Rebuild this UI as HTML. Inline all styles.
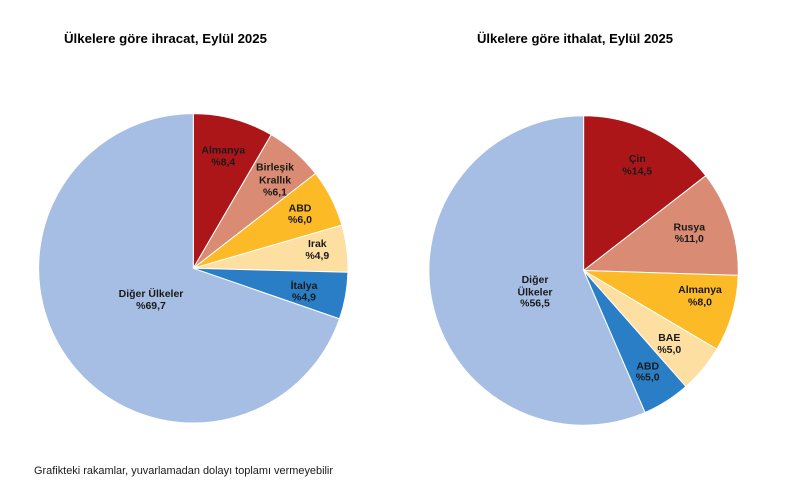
<!DOCTYPE html>
<html><head><meta charset="utf-8"><style>
html,body{margin:0;padding:0;background:#fff;}
svg{display:block;}
text{font-family:"Liberation Sans",Arial,sans-serif;}
.t{font-size:13px;font-weight:bold;fill:#000;}
.l{font-size:10.5px;font-weight:bold;fill:#1a1a1a;text-anchor:middle;}
.f{font-size:11px;fill:#1a1a1a;}
</style></head><body>
<svg width="786" height="493" viewBox="0 0 786 493" xmlns="http://www.w3.org/2000/svg">
<rect width="786" height="493" fill="#fff"/>
<text class="t" x="64" y="43" textLength="203" lengthAdjust="spacingAndGlyphs">Ülkelere göre ihracat, Eylül 2025</text>
<text class="t" x="477" y="43" textLength="196" lengthAdjust="spacingAndGlyphs">Ülkelere göre ithalat, Eylül 2025</text>

<g stroke="#fff" stroke-width="1" stroke-linejoin="round">
<path d="M193.3,268.3 L193.3,113.6 A154.7,154.7 0 0 1 271.2,134.7 Z" fill="#AD1619"/>
<path d="M193.3,268.3 L271.2,134.7 A154.7,154.7 0 0 1 315.5,173.5 Z" fill="#D98B74"/>
<path d="M193.3,268.3 L315.5,173.5 A154.7,154.7 0 0 1 341.9,225.1 Z" fill="#FBBA26"/>
<path d="M193.3,268.3 L341.9,225.1 A154.7,154.7 0 0 1 347.9,272.2 Z" fill="#FEDFA2"/>
<path d="M193.3,268.3 L347.9,272.2 A154.7,154.7 0 0 1 339.5,318.9 Z" fill="#2A7EC5"/>
<path d="M193.3,268.3 L339.5,318.9 A154.7,154.7 0 1 1 193.3,113.6 Z" fill="#A6BEE3"/>

<path d="M583.6,270.5 L583.6,115.8 A154.7,154.7 0 0 1 705.8,175.7 Z" fill="#AD1619"/>
<path d="M583.6,270.5 L705.8,175.7 A154.7,154.7 0 0 1 738.2,275.4 Z" fill="#D98B74"/>
<path d="M583.6,270.5 L738.2,275.4 A154.7,154.7 0 0 1 716.8,349.2 Z" fill="#FBBA26"/>
<path d="M583.6,270.5 L716.8,349.2 A154.7,154.7 0 0 1 685.9,386.5 Z" fill="#FEDFA2"/>
<path d="M583.6,270.5 L685.9,386.5 A154.7,154.7 0 0 1 645.0,412.5 Z" fill="#2A7EC5"/>
<path d="M583.6,270.5 L645.0,412.5 A154.7,154.7 0 1 1 583.6,115.8 Z" fill="#A6BEE3"/>
</g>

<text class="l" x="223.3" y="153.3">Almanya</text>
<text class="l" x="223.3" y="165.6">%8,4</text>
<text class="l" x="275" y="170.4">Birleşik</text>
<text class="l" x="275" y="183.7">Krallık</text>
<text class="l" x="275" y="195.6">%6,1</text>
<text class="l" x="300" y="211.5">ABD</text>
<text class="l" x="300" y="223.2">%6,0</text>
<text class="l" x="317.3" y="247.1">Irak</text>
<text class="l" x="317.3" y="259.2">%4,9</text>
<text class="l" x="304" y="288.8">İtalya</text>
<text class="l" x="304" y="300.6">%4,9</text>
<text class="l" x="151" y="297.2">Diğer Ülkeler</text>
<text class="l" x="151" y="309">%69,7</text>

<text class="l" x="637.3" y="162.1">Çin</text>
<text class="l" x="637.3" y="174.6">%14,5</text>
<text class="l" x="689.3" y="230.5">Rusya</text>
<text class="l" x="689.3" y="242.2">%11,0</text>
<text class="l" x="700" y="293.1">Almanya</text>
<text class="l" x="700" y="305.6">%8,0</text>
<text class="l" x="669.3" y="341.1">BAE</text>
<text class="l" x="669.3" y="353.2">%5,0</text>
<text class="l" x="647.7" y="369.5">ABD</text>
<text class="l" x="647.7" y="380.6">%5,0</text>
<text class="l" x="535" y="282.8">Diğer</text>
<text class="l" x="535" y="295.5">Ülkeler</text>
<text class="l" x="535" y="306.6">%56,5</text>

<text class="f" x="34" y="474" textLength="299" lengthAdjust="spacingAndGlyphs">Grafikteki rakamlar, yuvarlamadan dolayı toplamı vermeyebilir</text>
</svg>
</body></html>
